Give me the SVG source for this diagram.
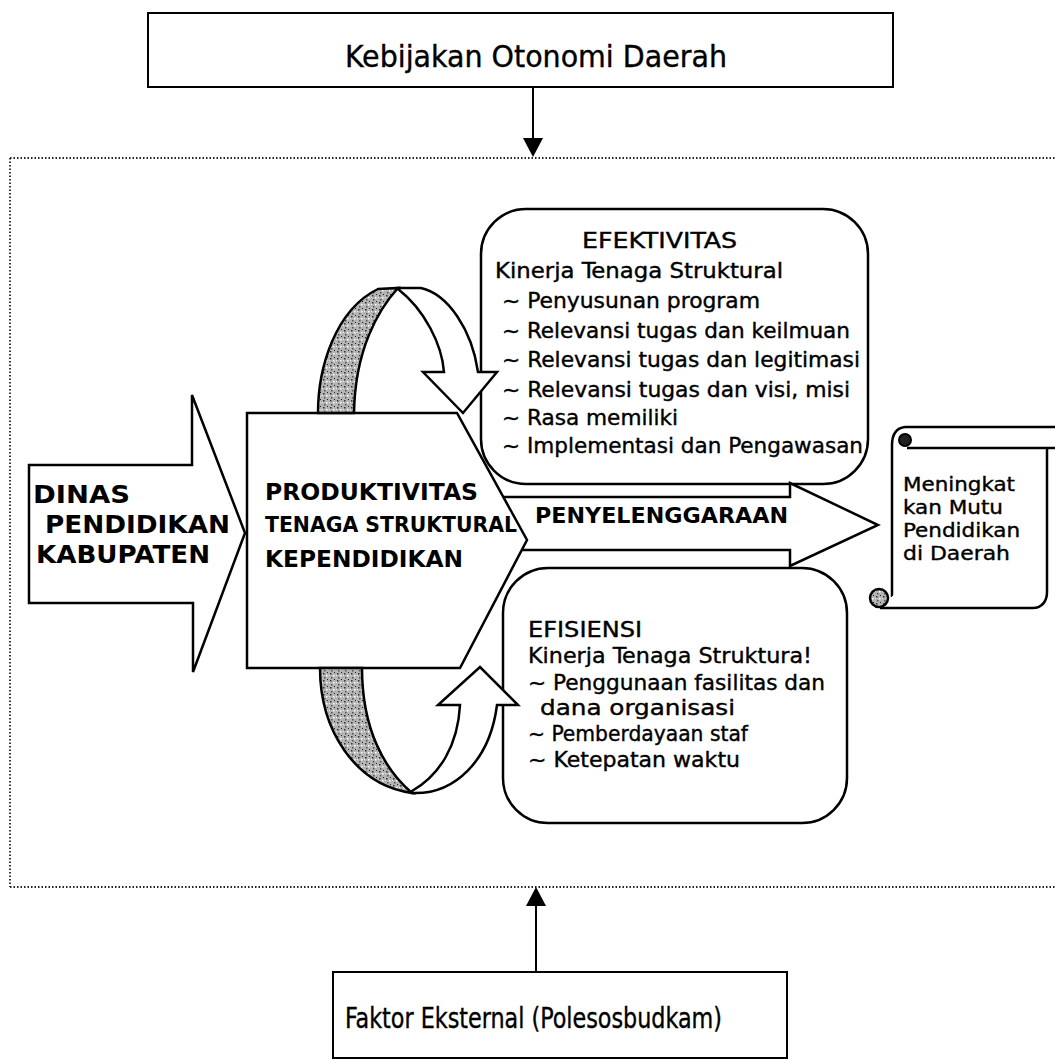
<svg xmlns="http://www.w3.org/2000/svg" width="1055" height="1060" viewBox="0 0 1055 1060">
<style>
.ln{fill:#fff;stroke:#000;stroke-width:2.5;stroke-linejoin:miter}
.thin{fill:#fff;stroke:#000;stroke-width:2}
.dot{fill:none;stroke:#222;stroke-width:1.8;stroke-dasharray:1.5 2}
.t{font-family:"DejaVu Sans Condensed","DejaVu Sans",sans-serif;fill:#000;stroke:#000;stroke-width:0.35}
.b{font-family:"DejaVu Sans","Verdana",sans-serif;font-weight:bold;fill:#000}
.st{fill:url(#stip);stroke:#000;stroke-width:2.5}
</style>
<defs>
<pattern id="stip" width="7" height="7" patternUnits="userSpaceOnUse">
<rect width="7" height="7" fill="#b4b4b4"/>
<rect x="1" y="1" width="1.5" height="1.5" fill="#333"/>
<rect x="4" y="3" width="1.5" height="1.5" fill="#fff"/>
<rect x="2" y="5" width="1.5" height="1.5" fill="#555"/>
<rect x="5" y="0" width="1" height="1" fill="#222"/>
<rect x="0" y="3" width="1" height="1" fill="#eee"/>
</pattern>
</defs>
<rect width="1055" height="1060" fill="#fff"/>
<g id="frame">
<path class="dot" d="M10,158 H1055 M10,158 V887 M10,887 H1055"/>
</g>
<g id="kebijakan">
<rect class="thin" x="148" y="13" width="745" height="74"/>
<text class="t" x="345" y="67" font-size="30" textLength="382" lengthAdjust="spacingAndGlyphs">Kebijakan Otonomi Daerah</text>
</g>
<g id="faktor">
<rect class="thin" x="333" y="972" width="454" height="86"/>
<text class="t" x="345" y="1028" font-size="28" textLength="377" lengthAdjust="spacingAndGlyphs">Faktor Eksternal (Polesosbudkam)</text>
</g>
<g id="efektivitas">
<rect class="ln" x="481" y="209" width="387" height="275" rx="45" ry="45"/>
<text class="t" x="582" y="248" font-size="21" textLength="155" lengthAdjust="spacingAndGlyphs">EFEKTIVITAS</text>
<text class="t" x="495" y="278" font-size="21" textLength="288" lengthAdjust="spacingAndGlyphs">Kinerja Tenaga Struktural</text>
<text class="t" x="502" y="308" font-size="21" textLength="258" lengthAdjust="spacingAndGlyphs">~ Penyusunan program</text>
<text class="t" x="502" y="338" font-size="21" textLength="348" lengthAdjust="spacingAndGlyphs">~ Relevansi tugas dan keilmuan</text>
<text class="t" x="502" y="367" font-size="21" textLength="358" lengthAdjust="spacingAndGlyphs">~ Relevansi tugas dan legitimasi</text>
<text class="t" x="502" y="397" font-size="21" textLength="348" lengthAdjust="spacingAndGlyphs">~ Relevansi tugas dan visi, misi</text>
<text class="t" x="502" y="425" font-size="21" textLength="176" lengthAdjust="spacingAndGlyphs">~ Rasa memiliki</text>
<text class="t" x="502" y="453" font-size="21" textLength="361" lengthAdjust="spacingAndGlyphs">~ Implementasi dan Pengawasan</text>
</g>
<g id="efisiensi">
<rect class="ln" x="503" y="568" width="344" height="255" rx="45" ry="45"/>
<text class="t" x="528" y="637" font-size="21" textLength="114" lengthAdjust="spacingAndGlyphs">EFISIENSI</text>
<text class="t" x="528" y="663" font-size="21" textLength="284" lengthAdjust="spacingAndGlyphs">Kinerja Tenaga Struktura!</text>
<text class="t" x="528" y="690" font-size="21" textLength="297" lengthAdjust="spacingAndGlyphs">~ Penggunaan fasilitas dan</text>
<text class="t" x="540" y="715" font-size="21" textLength="195" lengthAdjust="spacingAndGlyphs">dana organisasi</text>
<text class="t" x="528" y="741" font-size="21" textLength="220" lengthAdjust="spacingAndGlyphs">~ Pemberdayaan staf</text>
<text class="t" x="528" y="767" font-size="21" textLength="212" lengthAdjust="spacingAndGlyphs">~ Ketepatan waktu</text>
</g>
<g id="mutu">
<path class="ln" d="M892,597 V445 C892,434 897,428 905,427 H1055"/>
<path class="ln" fill="none" d="M907,448 H1055"/>
<path class="ln" d="M1047,448 V592 C1047,601 1042,608 1033,608 H880"/>
<circle cx="905" cy="440" r="6" fill="#222" stroke="#000" stroke-width="2"/>
<circle cx="879" cy="598" r="9" fill="url(#stip)" stroke="#000" stroke-width="2.5"/>
<text class="t" x="903" y="491" font-size="20" textLength="112" lengthAdjust="spacingAndGlyphs">Meningkat</text>
<text class="t" x="903" y="514" font-size="20" textLength="100" lengthAdjust="spacingAndGlyphs">kan Mutu</text>
<text class="t" x="903" y="537" font-size="20" textLength="117" lengthAdjust="spacingAndGlyphs">Pendidikan</text>
<text class="t" x="903" y="560" font-size="20" textLength="107" lengthAdjust="spacingAndGlyphs">di Daerah</text>
</g>
<g id="dinas">
<polygon class="ln" points="29,465 192,465 192,395 245,533 193,672 193,603 29,603"/>
<text class="b" x="33" y="503" font-size="25" textLength="97" lengthAdjust="spacingAndGlyphs">DINAS</text>
<text class="b" x="45" y="533" font-size="25" textLength="185" lengthAdjust="spacingAndGlyphs">PENDIDIKAN</text>
<text class="b" x="36" y="563" font-size="25" textLength="174" lengthAdjust="spacingAndGlyphs">KABUPATEN</text>
</g>
<g id="penyelenggaraan">
<polygon class="ln" points="495,497 790,497 790,483 878,525 790,566 790,550 495,550"/>
<text class="b" x="535" y="523" font-size="22" textLength="253" lengthAdjust="spacingAndGlyphs">PENYELENGGARAAN</text>
</g>
<g id="produktivitas">
<polygon class="ln" points="247,413 457,413 527,540 460,668 247,668"/>
<text class="b" x="265" y="500" font-size="23" textLength="213" lengthAdjust="spacingAndGlyphs">PRODUKTIVITAS</text>
<text class="b" x="265" y="532" font-size="21" textLength="252" lengthAdjust="spacingAndGlyphs">TENAGA STRUKTURAL</text>
<text class="b" x="265" y="567" font-size="23" textLength="198" lengthAdjust="spacingAndGlyphs">KEPENDIDIKAN</text>
</g>
<g id="loop-top">
<path class="st" d="M318,413 C318,368 335,310 378,289 L398,288 C378,310 355,350 354,413 Z"/>
<path class="ln" d="M398,288 L421,288 C448,294 472,330 478,372 L497,372 L463,413 L423,372 L444,372 C442,345 425,310 398,289 Z"/>
</g>
<g id="loop-bottom">
<path class="st" d="M320,668 C320,730 355,785 412,793 C385,770 362,730 362,668 Z"/>
<path class="ln" d="M412,793 C455,795 490,760 497,705 L518,705 L480,667 L438,705 L460,705 C458,745 440,775 412,791 Z"/>
</g>
<g id="connectors">
<line x1="533" y1="87" x2="533" y2="140" stroke="#000" stroke-width="2"/>
<polygon points="523,138 543,138 533,157" fill="#000"/>
<line x1="536" y1="972" x2="536" y2="904" stroke="#000" stroke-width="2"/>
<polygon points="526,906 546,906 536,887" fill="#000"/>
</g>
</svg>
